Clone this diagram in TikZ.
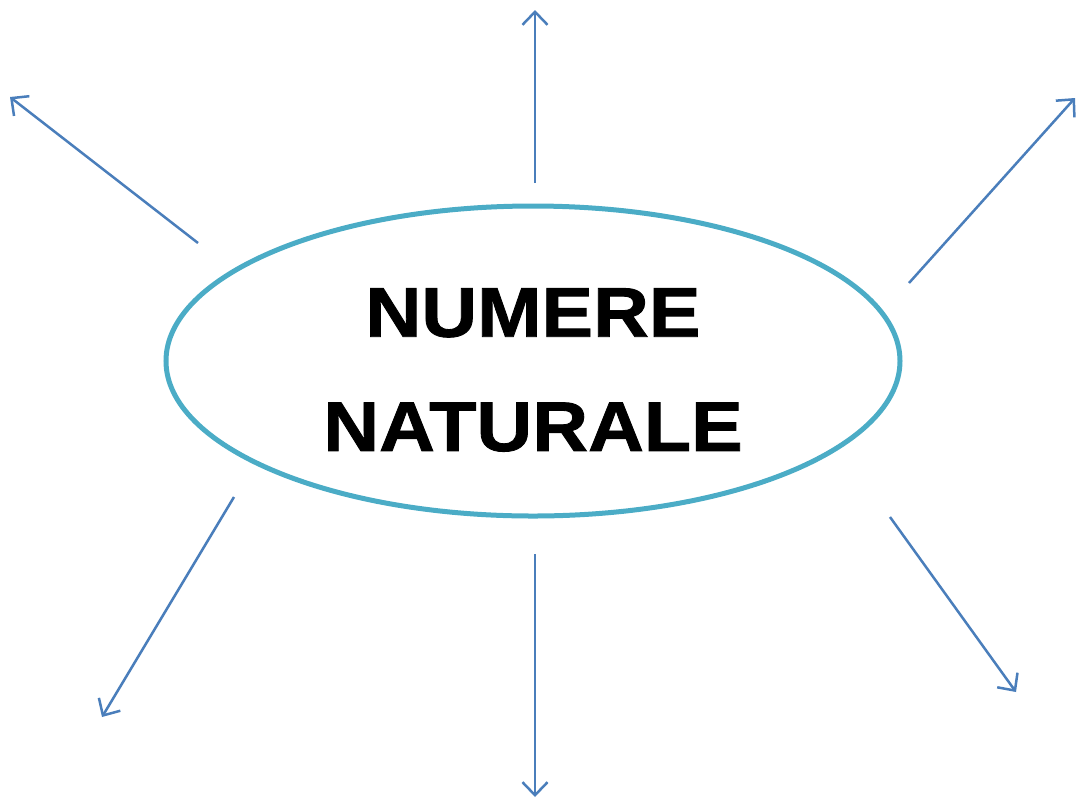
\documentclass[tikz,border=0pt]{standalone}
\usepackage{fontspec}
\usetikzlibrary{arrows.meta,shapes.geometric}
\newfontfamily\titlefont[FakeStretch=1.1,FakeBold=1.2]{Liberation Sans}
\definecolor{ovalC}{HTML}{4BACC6}
\definecolor{arrC}{HTML}{4A7EBB}

\begin{document}
\begin{tikzpicture}[x=0.2mm,y=-0.2mm,
  ray/.style={arrC,line width=0.5mm,-{Straight Barb[length=2.6mm,width=5mm]}}]
  \useasboundingbox (0,0) rectangle (1076,800);
  \node[ellipse,draw=ovalC,line width=1mm,minimum width=14.68cm,minimum height=6.2cm,inner sep=0pt] (oval) at (533,361) {};
  \node[font=\titlefont\bfseries\fontsize{40}{65}\selectfont,align=center] (title) at (533,370) {NUMERE\\NATURALE};
  \foreach \sx/\sy/\ex/\ey [count=\k] in {535/183/535/10, 198/243/10/97, 909/283/1075/98,
      234/497/102/717, 535/554/535/797, 890/517/1016/692}{
    \coordinate (s\k) at (\sx,\sy);
    \coordinate (e\k) at (\ex,\ey);
    \draw[ray] (s\k) -- (e\k);}
\end{tikzpicture}
\end{document}
